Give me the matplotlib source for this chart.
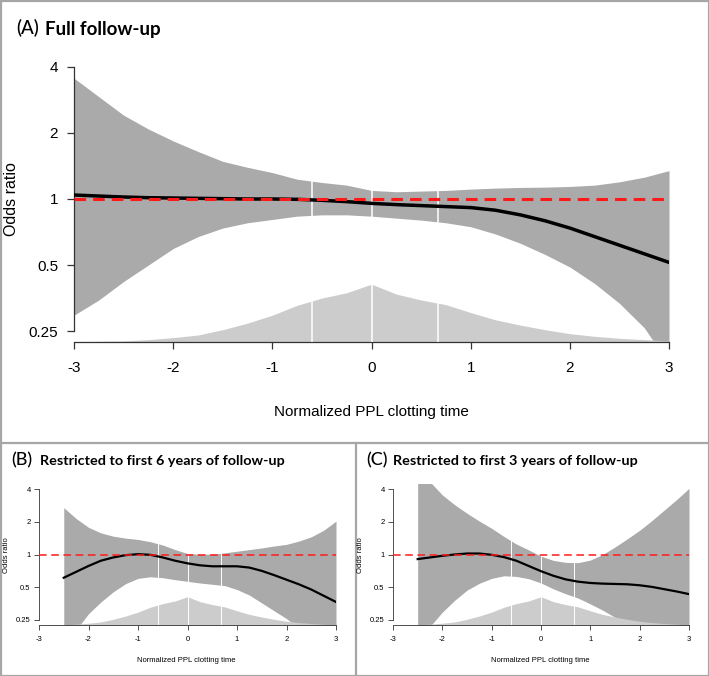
import numpy as np
import matplotlib.pyplot as plt
from matplotlib.lines import Line2D
from matplotlib.ticker import NullLocator

plt.rcParams['font.family'] = ['Liberation Sans', 'DejaVu Sans']

W, H = 709, 676

x_full = [-3.0, -2.75, -2.5, -2.25, -2.0, -1.75, -1.5, -1.25, -1.0, -0.75, -0.5, -0.25,
          0.0, 0.25, 0.5, 0.75, 1.0, 1.25, 1.5, 1.75, 2.0, 2.25, 2.5, 2.75, 3.0]
x_sub = x_full[2:]

# all curves are log2(odds ratio)
a_fit = [0.06, 0.045, 0.03, 0.02, 0.015, 0.01, 0.005, 0.0, 0.0, -0.005, -0.02, -0.04,
         -0.066, -0.085, -0.10, -0.115, -0.13, -0.17, -0.24, -0.33, -0.44, -0.57, -0.70, -0.83, -0.96]
a_upper = [1.83, 1.55, 1.27, 1.06, 0.88, 0.72, 0.57, 0.48, 0.40, 0.30, 0.25, 0.21,
           0.13, 0.11, 0.12, 0.13, 0.15, 0.165, 0.175, 0.18, 0.19, 0.21, 0.26, 0.33, 0.43]
a_lower = [-1.76, -1.53, -1.25, -1.00, -0.75, -0.57, -0.44, -0.36, -0.31, -0.26, -0.24, -0.24,
           -0.26, -0.29, -0.32, -0.36, -0.42, -0.53, -0.67, -0.84, -1.03, -1.28, -1.58, -1.95, -2.5]

b_fit = [-0.71, -0.53, -0.35, -0.19, -0.09, -0.02, 0.01, -0.01, -0.09, -0.19, -0.27, -0.33,
         -0.36, -0.36, -0.36, -0.40, -0.50, -0.63, -0.77, -0.91, -1.07, -1.26, -1.45]
b_upper = [1.43, 1.10, 0.83, 0.66, 0.56, 0.50, 0.46, 0.39, 0.29, 0.15, 0.03, 0.01,
           0.01, 0.05, 0.10, 0.15, 0.20, 0.26, 0.31, 0.41, 0.54, 0.74, 1.02]
b_lower = [-2.6, -2.3, -1.81, -1.45, -1.14, -0.89, -0.73, -0.68, -0.71, -0.77, -0.82, -0.87,
           -0.91, -0.95, -1.07, -1.24, -1.48, -1.72, -1.96, -2.25, -2.5, -2.5, -2.5]

c_fit = [-0.14, -0.09, -0.04, 0.0, 0.03, 0.03, -0.01, -0.08, -0.19, -0.35, -0.51, -0.65,
         -0.76, -0.83, -0.87, -0.89, -0.90, -0.91, -0.94, -0.99, -1.06, -1.13, -1.21]
c_upper = [2.8, 2.22, 1.82, 1.52, 1.26, 1.02, 0.80, 0.55, 0.32, 0.14, -0.05, -0.18,
           -0.24, -0.25, -0.17, 0.0, 0.23, 0.48, 0.74, 1.04, 1.36, 1.68, 2.02]
c_lower = [-2.6, -2.2, -1.76, -1.40, -1.09, -0.88, -0.73, -0.65, -0.67, -0.74, -0.87, -1.05,
           -1.20, -1.33, -1.51, -1.70, -1.92, -2.15, -2.4, -2.6, -2.7, -2.7, -2.7]

# distribution of the normalized clotting time (height above the plot floor, log2 units)
density = [0.0, 0.005, 0.01, 0.03, 0.06, 0.10, 0.18, 0.28, 0.40, 0.55, 0.66, 0.74,
           0.87, 0.72, 0.63, 0.56, 0.44, 0.33, 0.25, 0.18, 0.12, 0.08, 0.05, 0.03, 0.01]
quartiles = [-0.6, 0.0, 0.67]

y_ticks = [0.25, 0.5, 1, 2, 4]
y_ticklabels = ['0.25', '0.5', '1', '2', '4']
x_ticks = [-3, -2, -1, 0, 1, 2, 3]

Y_LO, Y_HI = -2.16, 2.16  # log2 limits with R style padding


def fig_rect(left, top, right, bottom):
    return [left / W, 1 - bottom / H, (right - left) / W, (bottom - top) / H]


def draw_panel(ax, x, fit, lower, upper, big):
    floor = 2.0 ** Y_LO
    ax.set_yscale('log', base=2)
    ax.fill_between(x, 2.0 ** np.array(lower), 2.0 ** np.array(upper),
                    color='#aaaaaa', lw=0, zorder=1)
    ax.fill_between(x_full, floor, floor * 2.0 ** np.array(density),
                    color='#cccccc', lw=0, zorder=2)
    for q in quartiles:
        top = 2.0 ** np.interp(q, x, upper)
        ax.plot([q, q], [floor, top], color='white', lw=1.1 if big else 0.7, zorder=3)
    ax.plot(x, 2.0 ** np.array(fit), color='black', lw=2.5 if big else 1.6, zorder=4)
    if big:
        ax.axhline(1, color='#ff1a1a', lw=2.2, ls=(0, (3.8, 2.3)), zorder=5)
    else:
        ax.axhline(1, color='#ff1a1a', lw=1.1, ls=(0, (5, 3)), zorder=5)

    ax.set_xlim(-3, 3)
    ax.set_ylim(2.0 ** Y_LO, 2.0 ** Y_HI)
    ax.set_yticks(y_ticks)
    ax.set_yticklabels(y_ticklabels)
    ax.yaxis.set_minor_locator(NullLocator())
    ax.set_xticks(x_ticks)
    ax.set_xticklabels([str(t) for t in x_ticks])
    for s in ['top', 'right']:
        ax.spines[s].set_visible(False)
    ax.spines['left'].set_bounds(0.25, 4)
    ax.spines['bottom'].set_bounds(-3, 3)
    lw_ax = 0.9 if big else 0.6
    for s in ['left', 'bottom']:
        ax.spines[s].set_linewidth(lw_ax)
        ax.spines[s].set_color('#333333')
    if big:
        ax.tick_params(axis='both', length=5, width=lw_ax, color='#333333', labelsize=11)
        ax.tick_params(axis='x', pad=9)
        ax.tick_params(axis='y', pad=6.5)
    else:
        ax.tick_params(axis='both', length=3.5, width=lw_ax, color='#333333', labelsize=5.5)
        ax.tick_params(axis='x', pad=4.5)
        ax.tick_params(axis='y', pad=2.5)


fig = plt.figure(figsize=(W / 100, H / 100), dpi=100)

ax_a = fig.add_axes(fig_rect(74, 56.4, 669, 341.6))
draw_panel(ax_a, x_full, a_fit, a_lower, a_upper, True)
ax_b = fig.add_axes(fig_rect(39, 483.8, 336, 625.2))
draw_panel(ax_b, x_sub, b_fit, b_lower, b_upper, False)
ax_c = fig.add_axes(fig_rect(393, 483.8, 689, 625.2))
draw_panel(ax_c, x_sub, c_fit, c_lower, c_upper, False)

# axis titles
fig.text(371 / W, 1 - 412 / H, 'Normalized PPL clotting time', ha='center', va='center', fontsize=11)
fig.text(12 / W, 1 - 199 / H, 'Odds ratio', ha='center', va='center', rotation=90, fontsize=11.5)
for cx, ly in [(186.5, 6.5), (540.5, 361)]:
    fig.text(cx / W, 1 - 660 / H, 'Normalized PPL clotting time', ha='center', va='center', fontsize=5.5)
    fig.text(ly / W, 1 - 555 / H, 'Odds ratio', ha='center', va='center', rotation=90, fontsize=5.5)

# panel titles
fig.text(16 / W, 1 - 28 / H, '(A)', ha='left', va='center', fontsize=13.5, family='Lato',
         weight='medium')
fig.text(45 / W, 1 - 29 / H, 'Full follow-up', ha='left', va='center', fontsize=13.5,
         family='Lato', weight='bold')
fig.text(11 / W, 1 - 460 / H, '(B)', ha='left', va='center', fontsize=13, family='Lato',
         weight='medium')
fig.text(40 / W, 1 - 461 / H, 'Restricted to first 6 years of follow-up', ha='left', va='center',
         fontsize=10.4, family='Lato', weight='bold')
fig.text(366 / W, 1 - 460 / H, '(C)', ha='left', va='center', fontsize=13, family='Lato',
         weight='medium')
fig.text(393 / W, 1 - 461 / H, 'Restricted to first 3 years of follow-up', ha='left', va='center',
         fontsize=10.4, family='Lato', weight='bold')

# panel frames
frame = dict(color='#a6a6a6', lw=1.6, transform=fig.transFigure)
fig.add_artist(Line2D([0.5 / W, 708.5 / W, 708.5 / W, 0.5 / W, 0.5 / W],
                      [1 - 0.5 / H, 1 - 0.5 / H, 0.5 / H, 0.5 / H, 1 - 0.5 / H], **frame))
fig.add_artist(Line2D([0, 1], [1 - 443 / H, 1 - 443 / H], **frame))
fig.add_artist(Line2D([355.5 / W, 355.5 / W], [0, 1 - 443 / H], **frame))

fig.savefig('out.png', dpi=100)
